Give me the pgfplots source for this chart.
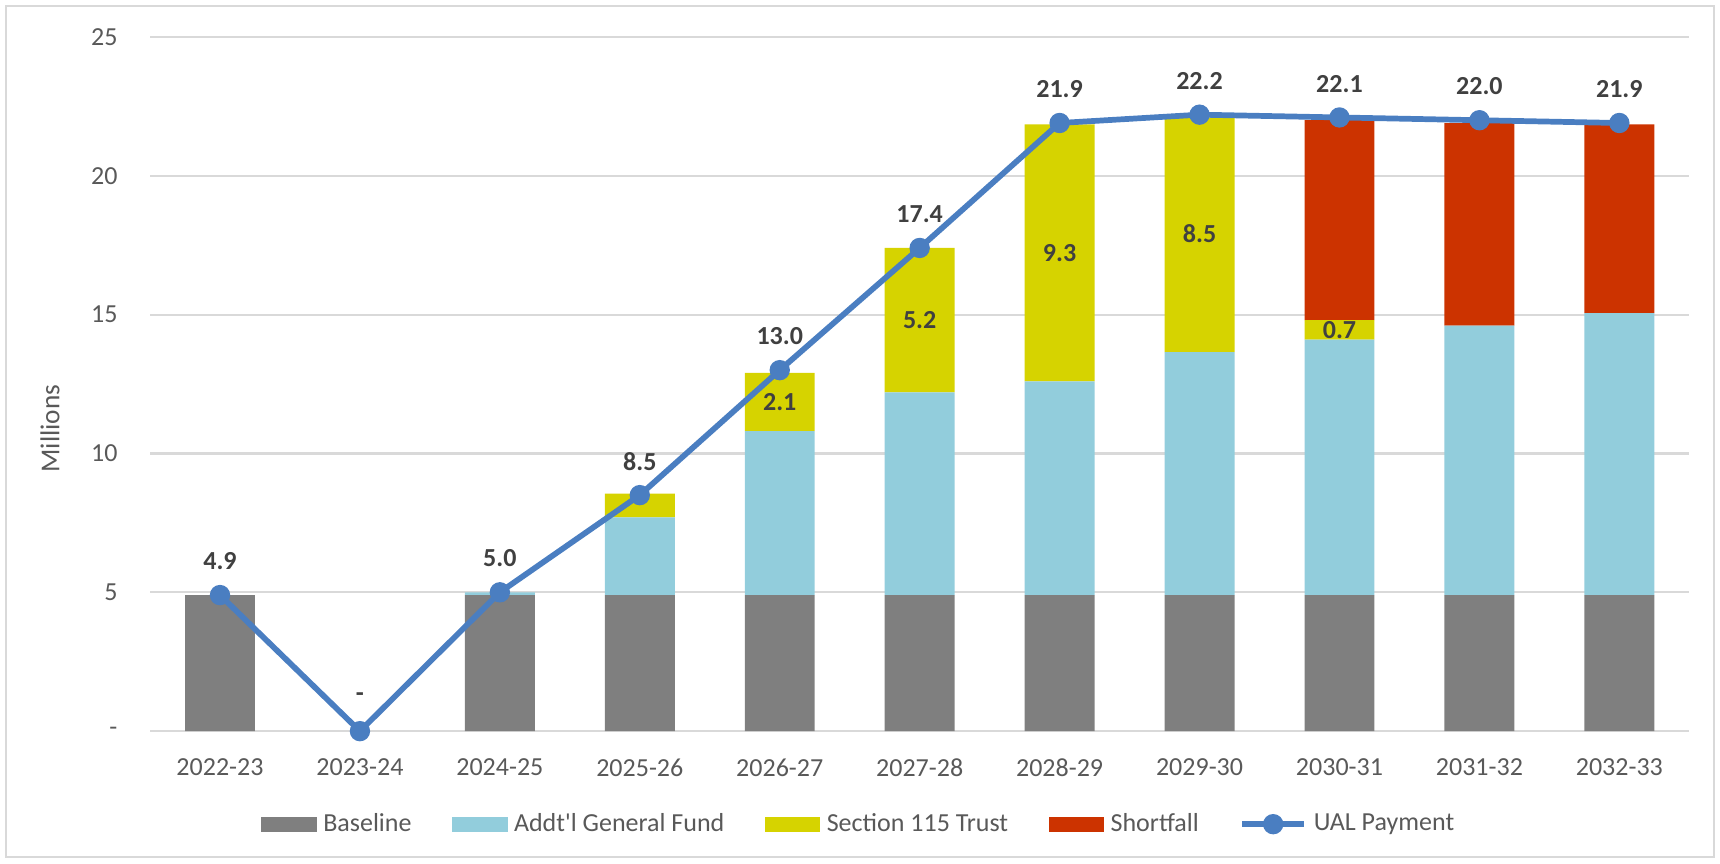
\documentclass[border=0pt]{standalone}
\usepackage{fontspec}
\setmainfont{Carlito}
\usepackage{pgfplots}
\usepackage{pgfplotstable}
\pgfplotsset{compat=1.18}
\definecolor{basegray}{RGB}{127,127,127}
\definecolor{addblue}{RGB}{146,205,220}
\definecolor{trustyel}{RGB}{214,211,0}
\definecolor{shortred}{RGB}{204,51,0}
\definecolor{ualblue}{RGB}{74,126,193}
\definecolor{gridgray}{RGB}{217,217,217}
\definecolor{tickgray}{RGB}{89,89,89}
\definecolor{labgray}{RGB}{64,64,64}

\pgfplotstableread{
x base add trust short
0 4.9 0    0    0
1 0   0    0    0
2 4.9 0.1  0    0
3 4.9 2.8  0.85 0
4 4.9 5.9  2.1  0
5 4.9 7.3  5.2  0
6 4.9 7.7  9.25 0
7 4.9 8.75 8.45 0
8 4.9 9.2  0.7  7.2
9 4.9 9.7  0    7.3
10 4.9 10.15 0  6.8
}\bars

\pgfplotstableread{
x y label
0 4.9 4.9
1 0 -
2 5.0 5.0
3 8.5 8.5
4 13.0 13.0
5 17.4 17.4
6 21.9 21.9
7 22.2 22.2
8 22.1 22.1
9 22.0 22.0
10 21.9 21.9
}\ual

\pgfplotstableread{
x y label
4 11.85 2.1
5 14.8 5.2
6 17.2 9.3
7 17.9 8.5
8 14.45 0.7
}\inner

\pgfplotsset{
  common/.style={
    scale only axis, width=592pt, height=267pt,
    xmin=-0.5, xmax=10.5, ymin=0, ymax=25,
    clip=false,
  },
}

\begin{document}
\begin{tikzpicture}
\useasboundingbox (-57.7pt,-50.8pt) rectangle (603.8pt,281.2pt);
\draw[gridgray, line width=0.8pt] (-55.4pt,-48.5pt) rectangle (601.5pt,278.9pt);
\begin{axis}[common,
  ybar stacked, bar width=0.5,
  xtick={0,...,10},
  xticklabels={2022-23,2023-24,2024-25,2025-26,2026-27,2027-28,2028-29,2029-30,2030-31,2031-32,2032-33},
  ytick={0,5,...,25}, yticklabels={-,5,10,15,20,25},
  axis line style={draw=none}, major tick length=0pt,
  ymajorgrids, grid style={gridgray, line width=0.8pt},
  tick label style={font=\fontsize{10}{12}\selectfont, text=tickgray},
  xticklabel style={yshift=-7pt},
  yticklabel style={xshift=-9pt},
  ylabel={Millions},
  every axis y label/.style={at={(axis description cs:-0.065,0.436)}, rotate=90, anchor=center,
     font=\fontsize{10.5}{12}\selectfont, text=tickgray},
]
\addplot[fill=basegray, draw=none] table[x=x, y=base] {\bars};
\addplot[fill=addblue, draw=none] table[x=x, y=add] {\bars};
\addplot[fill=trustyel, draw=none] table[x=x, y=trust] {\bars};
\addplot[fill=shortred, draw=none] table[x=x, y=short] {\bars};
\end{axis}

\begin{axis}[common, hide axis,
  legend columns=-1,
  legend style={at={(0.461,-0.134)}, anchor=center, draw=none, fill=none,
    font=\fontsize{10}{12}\selectfont, text=tickgray,
    /tikz/every even column/.append style={column sep=14pt},
    /tikz/every odd column/.append style={column sep=1pt},
    nodes={inner sep=1.5pt}},
]
\addlegendimage{legend image code/.code={\fill[basegray] (0pt,-2.7pt) rectangle (21pt,2.7pt);}}
\addlegendentry{Baseline}
\addlegendimage{legend image code/.code={\fill[addblue] (0pt,-2.7pt) rectangle (21pt,2.7pt);}}
\addlegendentry{Addt\textquotesingle l General Fund}
\addlegendimage{legend image code/.code={\fill[trustyel] (0pt,-2.7pt) rectangle (21pt,2.7pt);}}
\addlegendentry{Section 115 Trust}
\addlegendimage{legend image code/.code={\fill[shortred] (0pt,-2.7pt) rectangle (21pt,2.7pt);}}
\addlegendentry{Shortfall}
\addplot[color=ualblue, line width=2.2pt, mark=*, mark size=2.8pt,
  mark options={draw=none, fill=ualblue},
  legend image code/.code={\draw[ualblue, line width=2.2pt] (0pt,0pt) -- (24pt,0pt);
     \fill[ualblue] (12pt,0pt) circle (2.8pt);},
  nodes near coords, point meta=explicit symbolic,
  every node near coord/.style={anchor=center, yshift=13pt, font=\bfseries\fontsize{10}{12}\selectfont, text=labgray}]
  table[x=x, y=y, meta=label] {\ual};
\addlegendentry{UAL Payment}
\addplot[draw=none, mark=none, forget plot,
  nodes near coords, point meta=explicit symbolic,
  every node near coord/.style={anchor=center, font=\bfseries\fontsize{10}{12}\selectfont, text=labgray}]
  table[x=x, y=y, meta=label] {\inner};
\end{axis}
\end{tikzpicture}
\end{document}
